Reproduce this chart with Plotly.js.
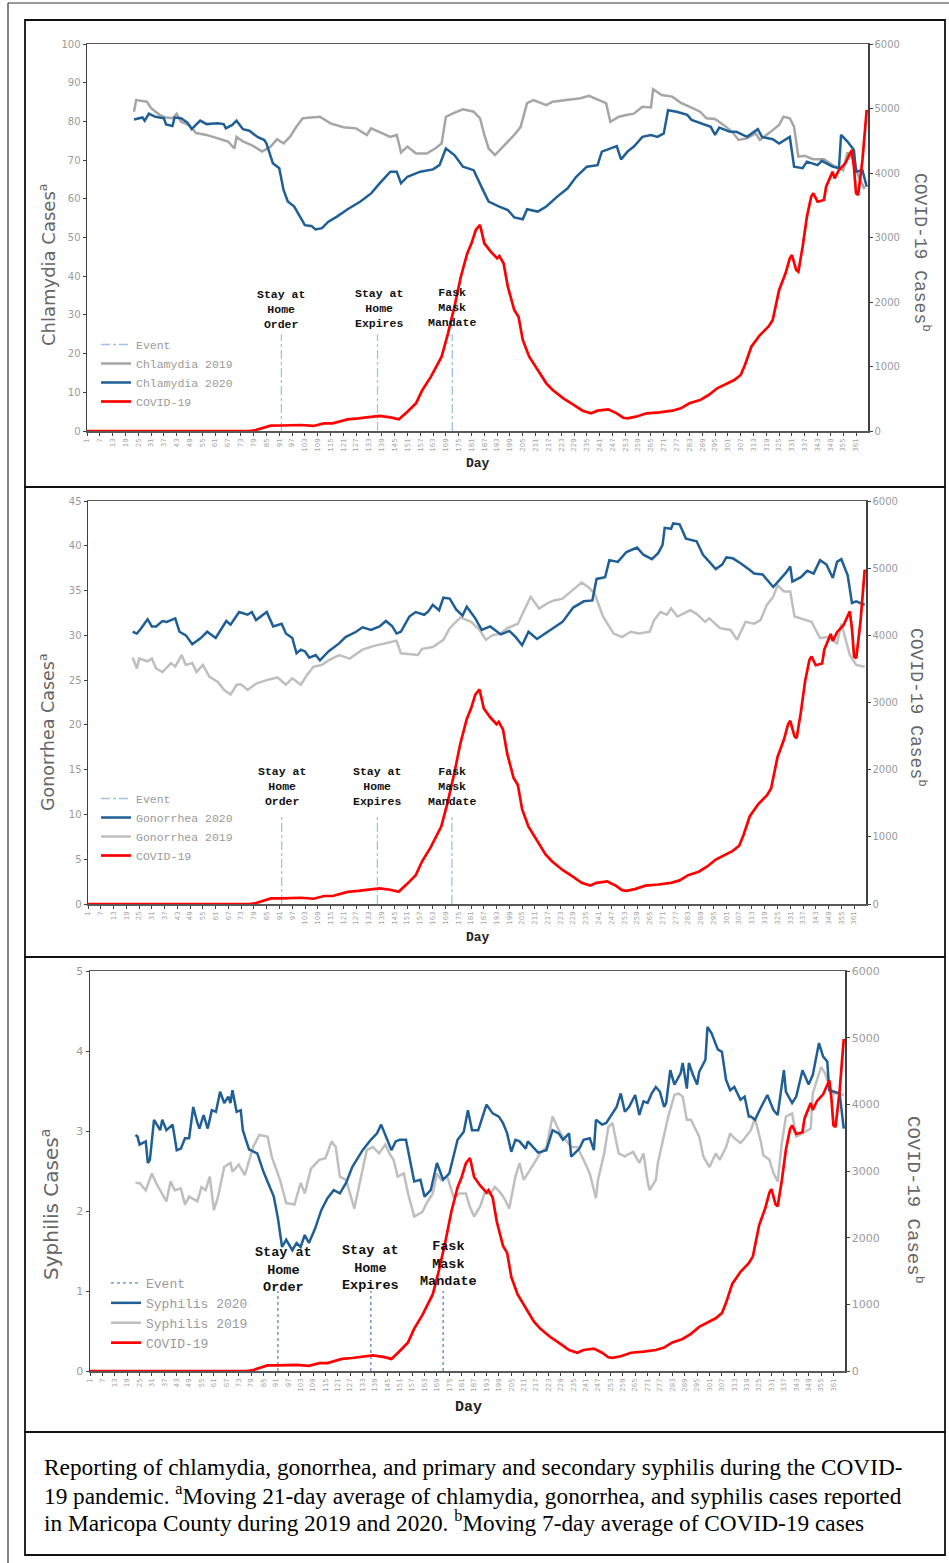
<!DOCTYPE html>
<html>
<head>
<meta charset="utf-8">
<script src="https://cdn.plot.ly/plotly-3.0.1.min.js"></script>
<style>html,body{margin:0;padding:0;background:#fff;}#chart{width:949px;height:1563px;}</style>
</head>
<body>
<div id="chart"></div>
<script>
// ---------------- DATA ----------------
const covidDays = [1,77,80,83,87,92,97,101,107,112,116,119,123,128,132,138,143,147,151,155,158,162,167,170,173,176,179,181,183,185,187,190,193,194,196,198,201,203,205,208,212,216,219,224,229,233,237,240,245,249,252,254,258,263,269,275,279,283,288,292,296,300,304,307,309,312,316,320,322,325,328,330,331,333,334,336,338,340,341,343,346,347,350,351,353,356,359,360,361,362,364,366];
const covidCases = [0,0,15,41,83,85,88,93,78,119,119,150,181,195,212,233,212,181,300,429,636,842,1152,1514,1927,2392,2754,2910,3116,3194,2910,2780,2677,2713,2600,2238,1876,1772,1411,1152,946,739,636,507,403,315,274,315,336,274,206,196,222,274,290,315,351,429,480,558,662,729,791,868,1023,1307,1488,1617,1720,2186,2444,2677,2728,2496,2470,2857,3322,3632,3685,3555,3581,3788,4020,3917,4047,4150,4357,4098,3685,3659,4202,4980];

const chlamydiaDays2019 = [23,24,29,31,35,38,41,43,45,49,52,57,60,63,67,70,71,74,78,83,87,90,93,96,99,102,107,110,115,121,127,132,134,138,143,146,148,151,155,160,164,167,169,172,177,182,185,187,189,192,196,201,204,207,210,216,219,226,232,236,241,244,246,250,254,257,261,265,266,270,275,279,283,288,291,295,299,303,306,310,314,316,321,325,327,330,332,334,337,341,346,350,355,357,360,362,365];
const chlamydia2019 = [82.5,85.5,85.1,83.4,81.7,81,80.8,82,79.9,79,77,76.5,76,75.4,74.8,73,76,74.8,73.9,72.2,73.5,75.4,74.3,76,78.6,80.8,81,81.2,79.5,78.5,78.2,76.5,78.2,77.3,76,76.5,72,73.5,71.7,71.7,73,74.3,81.2,82,83.1,82.5,80.8,76.5,73,71.3,73.5,76.5,78.6,84.7,85.5,84.2,85.1,85.5,86,86.6,85.5,84.7,79.9,81.2,81.7,82,83.8,83.6,88.3,86.8,86.4,84.8,83.8,82.5,80.8,80.6,79.1,77.3,75.2,75.6,76.9,75.2,77.3,79.1,81.2,80.8,78.6,70.9,71.1,70.2,70.2,68.7,67.4,72,70,66,62.5];

const chlamydiaDays2020 = [23,27,28,30,33,37,38,41,42,45,48,50,54,57,62,65,66,69,71,74,77,81,84,85,88,91,93,95,98,101,103,106,108,111,114,118,123,129,134,138,143,146,148,151,157,163,166,169,173,177,182,186,189,194,198,201,205,207,212,216,221,226,230,235,240,242,246,249,251,254,257,261,265,268,271,273,277,282,284,289,293,295,297,302,305,310,315,317,322,325,330,332,336,338,343,345,350,353,354,357,360,361,364,366];
const chlamydia2020 = [80.5,81,80.2,82,81.2,80.8,79.2,78.8,81,80.8,79.7,78,80.2,79.3,79.5,79.3,78.2,79.1,80.2,78,77.6,75.9,75.2,74.3,69.2,67.9,62.3,59.3,58,55,53.2,53,52.1,52.4,54.1,55.4,57.3,59.3,61.4,64,67,67,64,65.7,67,67.6,68.7,73,71.3,68.3,67.4,62.7,59.3,58,57.1,55.2,54.7,57.3,56.7,58,60.5,62.7,65.7,68.3,68.7,72.2,73,73.6,70.2,72.2,73.5,76,76.5,76,76.9,82.9,82.5,81.7,80.4,79.5,78.6,76.5,78.4,77.3,77.3,76,78,76,75.4,74.3,76,68.3,67.9,69.6,68.7,69.8,68.3,67.9,76.5,74.8,72.6,67,67.4,63.1];

const gonorrheaDays2019 = [22,24,25,29,31,33,36,40,42,45,47,50,52,55,58,62,65,68,71,73,76,80,85,88,90,94,97,101,104,107,111,114,119,124,130,135,141,146,148,156,158,163,168,171,176,181,185,188,191,195,198,203,206,209,213,217,220,224,229,233,236,239,243,248,252,256,260,265,267,270,273,275,278,284,287,291,293,298,303,306,310,314,317,320,323,325,328,331,333,336,341,345,349,353,355,359,362,366];
const gonorrhea2019 = [27.5,26.3,27.4,27.1,27.4,26.3,25.9,26.9,26.5,27.8,26.7,26.9,25.9,26.7,25.4,24.8,23.9,23.4,24.5,24.5,23.9,24.6,25,25.2,25.3,24.5,25.2,24.5,25.6,26.5,26.7,27.2,27.8,27.4,28.4,28.8,29.1,29.4,28,27.8,28.5,28.7,29.5,30.8,32,31.5,30.6,29.5,30,30.2,30.8,31.3,32.8,34.3,33,33.6,33.9,34.1,35.1,35.9,35.4,34.7,32.1,30.2,29.8,30.4,30.2,30.4,31.7,32.6,32.3,33,32.1,32.8,32.4,31.5,31.9,30.8,30.6,29.5,31.5,31.3,31.7,33.4,34.3,35.6,34.9,34.9,32.1,31.9,31.5,29.7,29.8,29.1,31.3,27.8,26.7,26.5];

const gonorrheaDays2020 = [22,24,26,29,31,33,36,38,42,44,47,50,54,57,61,66,68,72,76,78,80,85,88,92,94,97,99,101,103,105,108,110,114,119,122,127,130,134,138,141,144,146,148,152,155,159,161,163,166,168,171,174,177,179,183,186,190,195,199,202,205,208,212,217,221,224,229,234,238,240,244,246,250,254,259,262,266,269,271,272,275,276,279,282,287,290,293,296,299,301,304,308,312,314,318,320,323,326,329,331,332,336,339,342,345,348,351,353,355,358,360,362,366];
const gonorrhea2020 = [30.4,30.2,30.8,31.8,31,31,31.6,31.5,31.9,30.4,30,29,29.7,30.4,29.7,31.6,31.2,32.6,32.3,32.6,31.7,32.6,31,31.3,30.2,29.7,28,28.4,28.2,27.5,27.8,27.2,28.2,29.1,29.8,30.4,30.9,30.6,31,31.6,31,30.2,30.4,32.1,32.6,32.3,32.7,33.4,32.8,34.2,34.1,32.9,32.2,33.2,31.9,30.6,31,30.1,30.5,29.8,28.9,30.4,29.6,30.4,31,31.5,33.1,33.8,33.9,36.3,36.5,38.4,38.2,39.3,39.8,39,38.5,39.2,40.1,42,41.9,42.5,42.4,40.8,40.5,39,38.2,37.4,37.9,38.7,38.6,38,37.3,36.9,36.8,36.2,35.4,36.2,37,37.7,36,36.5,37.2,36.9,38.4,37.9,36.4,38.2,38.5,36.7,33.6,33.8,33.4];

const syphilisDays2019 = [23,25,28,31,33,36,38,40,42,45,47,49,53,55,57,59,61,63,66,69,70,73,76,80,83,87,89,93,96,100,103,105,108,112,115,118,120,122,125,129,132,135,138,141,144,146,148,150,153,155,158,162,164,167,169,171,174,177,180,183,185,187,190,192,195,197,200,202,204,207,209,211,214,217,219,222,225,228,230,234,237,240,243,246,247,250,252,254,257,260,261,264,267,269,271,272,275,276,279,281,284,286,288,290,292,296,298,301,304,306,309,311,313,316,318,321,323,326,327,330,332,334,336,338,341,343,346,350,351,353,355,357,359,361,363,366];
const syphilis2019 = [2.35,2.35,2.26,2.47,2.35,2.22,2.12,2.37,2.26,2.28,2.08,2.18,2.12,2.3,2.26,2.43,2.01,2.18,2.55,2.6,2.49,2.58,2.45,2.8,2.95,2.93,2.68,2.39,2.1,2.08,2.35,2.22,2.53,2.64,2.66,2.87,2.8,2.43,2.39,2.03,2.39,2.76,2.8,2.72,2.83,2.72,2.64,2.43,2.47,2.22,1.93,1.99,2.1,2.22,2.47,2.39,2.43,2.18,2.22,2.22,2.05,1.93,2.06,2.22,2.22,2.3,2.22,2.14,2.03,2.43,2.6,2.39,2.51,2.64,2.72,2.8,3.18,3.01,2.93,2.8,2.8,2.64,2.47,2.16,2.39,2.72,3.05,3.1,2.72,2.68,2.7,2.74,2.6,2.72,2.37,2.26,2.39,2.6,2.95,3.18,3.45,3.47,3.43,3.14,3.14,2.93,2.68,2.55,2.72,2.64,2.8,2.97,2.91,2.85,2.91,3.01,3.16,2.85,2.7,2.64,2.47,2.37,2.85,3.18,3.22,2.93,2.97,3.03,3.47,3.64,3.8,3.72,3.55,3.47,3.47,3.45];

const syphilisDays2020 = [23,24,25,28,29,30,32,35,36,38,41,43,45,47,49,51,53,54,56,58,60,62,64,66,68,69,70,72,74,75,78,82,85,87,90,92,94,96,99,101,103,105,107,110,113,116,119,122,125,128,133,137,140,142,145,147,149,151,154,156,158,161,163,166,169,172,175,179,182,184,186,189,191,193,196,199,201,203,205,207,209,212,213,216,218,222,225,228,230,233,234,238,240,243,245,246,249,251,254,256,258,260,262,265,267,269,271,273,275,277,279,280,282,284,287,288,290,291,293,295,296,299,300,302,305,307,309,311,313,316,318,320,321,323,326,329,332,334,337,338,341,343,346,349,351,354,356,358,359,362,364,366];
const syphilis2020 = [2.95,2.93,2.83,2.87,2.6,2.64,3.14,3.01,3.14,3.01,3.08,2.76,2.78,2.91,2.91,3.3,3.1,3.03,3.2,3.03,3.26,3.24,3.49,3.35,3.43,3.35,3.51,3.24,3.26,3.01,2.77,2.72,2.49,2.37,2.18,1.91,1.55,1.64,1.51,1.6,1.55,1.7,1.6,1.78,2.01,2.16,2.26,2.22,2.35,2.55,2.76,2.89,2.97,3.08,2.89,2.76,2.87,2.89,2.89,2.64,2.37,2.39,2.18,2.26,2.6,2.39,2.47,2.89,2.99,3.26,3.01,3.01,3.18,3.33,3.22,3.18,3.1,2.97,2.74,2.89,2.87,2.78,2.87,2.78,2.73,2.76,3.01,2.97,2.89,2.97,2.68,2.78,2.89,2.91,2.76,3.14,3.08,3.1,3.22,3.3,3.47,3.24,3.3,3.45,3.2,3.37,3.35,3.47,3.55,3.49,3.3,3.35,3.76,3.58,3.72,3.85,3.53,3.85,3.7,3.58,3.74,3.89,4.3,4.22,4.02,3.99,3.64,3.51,3.55,3.39,3.43,3.18,3.18,3.14,3.3,3.45,3.26,3.2,3.76,3.49,3.35,3.43,3.76,3.58,3.7,4.1,3.93,3.87,3.51,3.49,3.47,3.03];

const eventDays = [92, 137, 172];
const eventNames = ['Stay at<br>Home<br>Order', 'Stay at<br>Home<br>Expires', 'Fask<br>Mask<br>Mandate'];
const xTickFirst = 1, xTickStep = 6;
const captionLines = [
  'Reporting of chlamydia, gonorrhea, and primary and secondary syphilis during the COVID-',
  '19 pandemic. <sup>a</sup>Moving 21-day average of chlamydia, gonorrhea, and syphilis cases reported',
  'in Maricopa County during 2019 and 2020. <sup>b</sup>Moving 7-day average of COVID-19 cases'
];

// ---------------- LAYOUT HELPERS ----------------
const W = 949, H = 1563;
const px = v => v / W;
const py = v => 1 - v / H;

const panels = [
  {name:'Chlamydia', d19:chlamydiaDays2019, v19:chlamydia2019, d20:chlamydiaDays2020, v20:chlamydia2020,
   l:87, r:868, t:44, b:431, ymax:100, ydt:10, evTop:25, gray:'#a6a6a6', order2020First:false,
   evColor:'#9dc3e6', evDash:'dashdot',
   legX:96, legY:330, legSize:11.5, labY:[310,308,307], labDx:[0,1,0], labSize:11.5,
   ltX:47, ltY:265, ltSize:18, rtX:922, rtY:252, rtSize:18, dayX:478, dayY:463, daySize:13, tickSize:10},
  {name:'Gonorrhea', d19:gonorrheaDays2019, v19:gonorrhea2019, d20:gonorrheaDays2020, v20:gonorrhea2020,
   l:88, r:866, t:501, b:904, ymax:45, ydt:5, evTop:10, gray:'#bfbfbf', order2020First:true,
   evColor:'#9dc3e6', evDash:'dashdot',
   legX:96, legY:784, legSize:11.5, labY:[786,786,786], labDx:[0,0,0], labSize:11.5,
   ltX:47, ltY:733, ltSize:17.5, rtX:918, rtY:707, rtSize:18, dayX:478, dayY:937, daySize:13, tickSize:10},
  {name:'Syphilis', d19:syphilisDays2019, v19:syphilis2019, d20:syphilisDays2020, v20:syphilis2020,
   l:90, r:845, t:971, b:1371, ymax:5, ydt:1, evTop:1, gray:'#bfbfbf', order2020First:true,
   evColor:'#5b86c5', evDash:'dot',
   legX:106, legY:1268, legSize:13, labY:[1270,1268,1264], labDx:[6,0,5], labSize:13.5,
   ltX:50, ltY:1205, ltSize:20, rtX:915, rtY:1200, rtSize:19, dayX:468, dayY:1407, daySize:15, tickSize:11}
];

const traces = [];
const layout = {
  width: W, height: H, autosize: false,
  margin: {l:0, r:0, t:0, b:0, pad:0},
  paper_bgcolor: '#ffffff', plot_bgcolor: 'rgba(0,0,0,0)',
  showlegend: true,
  annotations: [], shapes: []
};

const axisLine = '#404040';
const tickGray = '#9a9a9a';

panels.forEach((p, i) => {
  const xa = i === 0 ? 'x' : 'x' + (i + 1);
  const yl = i === 0 ? 'y' : 'y' + (2 * i + 1);
  const yr = 'y' + (2 * i + 2);
  const xKey = i === 0 ? 'xaxis' : 'xaxis' + (i + 1);
  const ylKey = i === 0 ? 'yaxis' : 'yaxis' + (2 * i + 1);
  const yrKey = 'yaxis' + (2 * i + 2);
  const leg = i === 0 ? 'legend' : 'legend' + (i + 1);

  layout[xKey] = {
    domain: [px(p.l), px(p.r)], anchor: yl, range: [1, 366.6],
    tickmode: 'linear', tick0: xTickFirst, dtick: xTickStep, tickangle: -90,
    tickfont: {family: 'DejaVu Sans', size: 7, color: '#a6a6a6'},
    ticks: 'outside', ticklen: 3, tickcolor: axisLine, tickwidth: 1,
    showline: true, linecolor: '#595959', linewidth: 1.5, mirror: true,
    showgrid: false, zeroline: false, fixedrange: true
  };
  layout[ylKey] = {
    domain: [py(p.b), py(p.t)], anchor: xa, range: [0, p.ymax],
    tickmode: 'linear', tick0: 0, dtick: p.ydt,
    tickfont: {family: 'DejaVu Sans', size: p.tickSize, color: tickGray},
    ticks: 'outside', ticklen: 3, tickcolor: axisLine,
    showline: true, linecolor: axisLine, linewidth: 1.5,
    showgrid: false, zeroline: false, fixedrange: true
  };
  layout[yrKey] = {
    overlaying: yl, side: 'right', anchor: xa, range: [0, 6000],
    tickmode: 'linear', tick0: 0, dtick: 1000,
    tickfont: {family: 'DejaVu Sans', size: p.tickSize, color: tickGray},
    ticks: 'outside', ticklen: 3, tickcolor: axisLine,
    showline: true, linecolor: axisLine, linewidth: 1.5,
    showgrid: false, zeroline: false, fixedrange: true
  };
  layout[leg] = {
    x: px(p.legX), y: py(p.legY), xanchor: 'left', yanchor: 'top',
    xref: 'paper', yref: 'paper',
    bgcolor: 'rgba(0,0,0,0)', borderwidth: 0,
    font: {family: 'Liberation Mono', size: p.legSize, color: '#9a9a9a'},
    itemwidth: 30, tracegroupgap: 0
  };

  // event lines
  const ex = [], ey = [];
  eventDays.forEach((d, k) => { ex.push(d, d); ey.push(0, p.evTop); if (k < eventDays.length - 1) { ex.push(null); ey.push(null); } });
  traces.push({x: ex, y: ey, xaxis: xa, yaxis: yl, mode: 'lines', name: 'Event', legend: leg, legendrank: 1,
    line: {color: p.evColor, width: 1.3, dash: p.evDash}, hoverinfo: 'skip'});
  // 2019
  traces.push({x: p.d19, y: p.v19, xaxis: xa, yaxis: yl, mode: 'lines', name: p.name + ' 2019', legend: leg,
    legendrank: p.order2020First ? 3 : 2, line: {color: p.gray, width: 2.5}});
  // 2020
  traces.push({x: p.d20, y: p.v20, xaxis: xa, yaxis: yl, mode: 'lines', name: p.name + ' 2020', legend: leg,
    legendrank: p.order2020First ? 2 : 3, line: {color: '#1f5f96', width: 2.5}});
  // COVID
  traces.push({x: covidDays, y: covidCases, xaxis: xa, yaxis: yr, mode: 'lines', name: 'COVID-19', legend: leg,
    legendrank: 4, line: {color: '#ff0000', width: 2.7}});

  // event labels
  eventDays.forEach((d, k) => {
    layout.annotations.push({
      xref: xa, yref: 'paper', x: d, y: py(p.labY[k]), xanchor: 'center', yanchor: 'middle',
      xshift: p.labDx[k], text: '<b>' + eventNames[k] + '</b>', showarrow: false, align: 'center',
      font: {family: 'Liberation Mono', size: p.labSize, color: '#111111'}
    });
  });
  // axis titles
  layout.annotations.push({xref: 'paper', yref: 'paper', x: px(p.ltX), y: py(p.ltY), xanchor: 'center', yanchor: 'middle',
    textangle: -90, showarrow: false, text: p.name + ' Cases<sup>a</sup>',
    font: {family: 'DejaVu Sans', size: p.ltSize, color: '#666666'}});
  layout.annotations.push({xref: 'paper', yref: 'paper', x: px(p.rtX), y: py(p.rtY), xanchor: 'center', yanchor: 'middle',
    textangle: 90, showarrow: false, text: 'COVID-19 Cases<sup>b</sup>',
    font: {family: 'Liberation Mono', size: p.rtSize, color: '#666666'}});
  layout.annotations.push({xref: 'paper', yref: 'paper', x: px(p.dayX), y: py(p.dayY), xanchor: 'center', yanchor: 'middle',
    showarrow: false, text: '<b>Day</b>', font: {family: 'Liberation Mono', size: p.daySize, color: '#222222'}});
});

// frames
const boxes = [[25,20,945,487],[25,487,945,957],[25,957,945,1432],[25,1432,945,1555]];
boxes.forEach(b => layout.shapes.push({type: 'rect', xref: 'paper', yref: 'paper', x0: px(b[0]), x1: px(b[2]), y0: py(b[3]), y1: py(b[1]),
  line: {color: '#111111', width: 1.8}, fillcolor: 'rgba(0,0,0,0)', layer: 'below'}));
layout.shapes.push({type: 'line', xref: 'paper', yref: 'paper', x0: px(8), x1: px(8), y0: 0, y1: py(3), line: {color: '#333333', width: 1.2}});
layout.shapes.push({type: 'line', xref: 'paper', yref: 'paper', x0: px(8), x1: 1, y0: py(3), y1: py(3), line: {color: '#333333', width: 1.2}});

// caption, one annotation per line
const captionY = [1467, 1494, 1521];
captionLines.forEach((t, k) => layout.annotations.push({xref: 'paper', yref: 'paper', x: px(42), y: py(captionY[k]),
  xanchor: 'left', yanchor: 'middle', align: 'left', showarrow: false, text: t,
  font: {family: 'Liberation Serif', size: 23.3, color: '#000000'}}));

Plotly.newPlot('chart', traces, layout, {staticPlot: true, displayModeBar: false});
</script>
</body>
</html>
